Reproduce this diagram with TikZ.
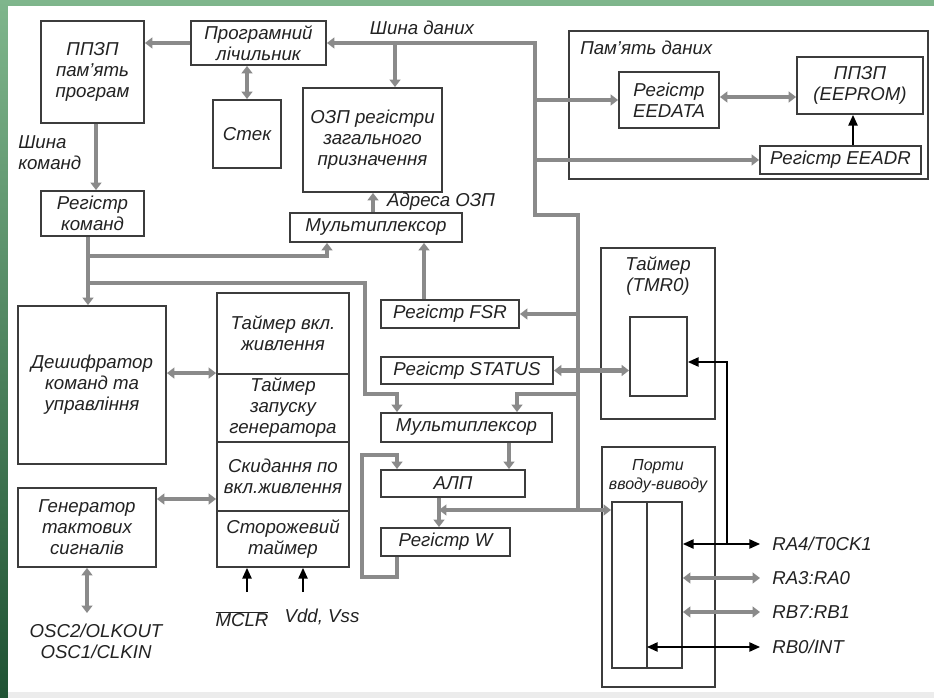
\documentclass[tikz,border=0pt]{standalone}
\usepackage{fontspec}
\setmainfont{Liberation Sans}
\usetikzlibrary{arrows.meta}
\definecolor{busgray}{HTML}{8A8A8A}
\definecolor{boxline}{HTML}{3C3C3C}
\definecolor{ink}{HTML}{222222}
\definecolor{greentop}{HTML}{7FB68C}
\definecolor{greendark}{HTML}{1F5233}
\begin{document}
\begin{tikzpicture}[x=0.75pt,y=-0.75pt,
  sz/.style 2 args={minimum width={#1*0.75pt},minimum height={#2*0.75pt}},
  box/.style={draw=boxline, line width=1.4pt, fill=white, inner sep=0pt, align=center, text=ink, font=\fontsize{14}{15.75}\selectfont\itshape},
  lbl/.style={inner sep=0pt, align=center, text=ink, font=\fontsize{14}{15.75}\selectfont\itshape},
  bus/.style={draw=busgray, line width=3.6pt, >={Triangle[width=8pt,length=5.5pt]}},
  sig/.style={draw=black, line width=1.1pt, >={Triangle[width=7pt,length=8pt]}},
]
% page and frame
\useasboundingbox (0,0) rectangle (934,698);
\shade[top color=greentop, bottom color=greendark] (0,0) rectangle (934,698);
\fill[white] (8,6) rectangle (934,692);
\fill[gray!15] (8,692) rectangle (934,698);

% program side
\node[box,sz={103}{102}] (ppzp) at (92.5,72) {ППЗП\\пам’ять\\програм};
\node[box,sz={135}{44}] (pc) at (258.5,43) {Програмний\\лічильник};
\node[box,sz={68}{68}] (stek) at (247,134) {Стек};
\node[box,sz={103}{45}] (rk) at (92.5,213.5) {Регістр\\команд};
\node[box,sz={139}{104}] (ozp) at (372.5,140) {ОЗП регістри\\загального\\призначення};
\node[box,sz={172}{29}] (muxa) at (376,227.5) {Мультиплексор};

% data memory
\node[box,sz={359}{148}] (memd) at (748.5,105) {};
\node[lbl,anchor=west] (memdl) at (580,48) {Пам’ять даних};
\node[box,sz={100}{56}] (eedata) at (669,100) {Регістр\\EEDATA};
\node[box,sz={126}{57}] (eeprom) at (860,85.5) {ППЗП\\(EEPROM)};
\node[box,sz={161}{28}] (eeadr) at (840.5,160) {Регістр EEADR};

% control and timers
\node[box,sz={148}{158}] (dec) at (92,385) {Дешифратор\\команд та\\управління};
\node[box,sz={132}{81}] (tA) at (283,333.5) {Таймер вкл.\\живлення};
\node[box,sz={132}{68}] (tB) at (283,408) {Таймер\\запуску\\генератора};
\node[box,sz={132}{69}] (tC) at (283,476.5) {Скидання по\\вкл.живлення};
\node[box,sz={132}{56}] (tD) at (283,539) {Сторожевий\\таймер};
\node[box,sz={138}{79}] (gen) at (87,527.5) {Генератор\\тактових\\сигналів};

% registers and ALU
\node[box,sz={138}{28}] (fsr) at (450,314) {Регістр FSR};
\node[box,sz={172}{27}] (status) at (467,370.5) {Регістр STATUS};
\node[box,sz={171}{29}] (muxb) at (466.5,427.5) {Мультиплексор};
\node[box,sz={144}{27}] (alu) at (453,483.5) {АЛП};
\node[box,sz={129}{28}] (wreg) at (445.5,542) {Регістр W};

% timer and ports
\node[box,sz={114}{171}] (tmr) at (658,333.5) {};
\node[lbl] (tmrl) at (658,276) {Таймер\\(TMR0)};
\node[box,sz={57}{79}] (tmri) at (658.5,356.5) {};
\node[box,sz={113}{240}] (ports) at (658.5,567) {};
\node[lbl,font=\fontsize{12}{14.25}\selectfont\itshape] (portsl) at (658,476.5) {Порти\\вводу-виводу};
\node[box,sz={70}{166}] (portsi) at (647,585) {};
\draw[boxline,line width=1.4pt] (portsi.north) -- (portsi.south);

% free labels
\node[lbl] (dbus) at (422,28) {Шина даних};
\node[lbl] (addr) at (441,202) {Адреса ОЗП};
\node[lbl,anchor=west,align=left] (cbus) at (18,152.5) {Шина\\команд};
\node[lbl] (osc) at (96,641) {OSC2/OLKOUT\\OSC1/CLKIN};
\node[lbl] (mclr) at (242,619) {$\overline{\mbox{MCLR}}$};
\node[lbl] (vdd) at (322,617) {Vdd, Vss};
\node[lbl,anchor=west] (ra4) at (772,544) {RA4/T0CK1};
\node[lbl,anchor=west] (ra3) at (772,578) {RA3:RA0};
\node[lbl,anchor=west] (rb7) at (772,612) {RB7:RB1};
\node[lbl,anchor=west] (rb0) at (772,647) {RB0/INT};

% bus corners and tap positions
\coordinate (busA) at (535,43);
\coordinate (busB) at (535,215);
\coordinate (busC) at (578,215);
\coordinate (busD) at (578,510);
\coordinate (xozp) at (395,0);
\coordinate (xee) at (853,0);
\coordinate (xrk) at (88,0);
\coordinate (xpm) at (96,0);
\coordinate (brA) at (88,256);
\coordinate (brAe) at (327,256);
\coordinate (brB) at (88,283);
\coordinate (brBc) at (365,394);
\coordinate (xmb) at (397,0);
\coordinate (xma) at (373,0);
\coordinate (xfsr) at (424,0);
\coordinate (mbr) at (517,394);
\coordinate (xalu) at (509,0);
\coordinate (xw) at (439,0);
\coordinate (fbA) at (362,577);
\coordinate (fbB) at (362,455);
\coordinate (ygen) at (0,499);
\coordinate (osce) at (87,613);
\coordinate (mclrs) at (247,592);
\coordinate (vdds) at (303,592);
\coordinate (pine) at (760,0);
\coordinate (tmrin) at (727,362);
\coordinate (yee) at (0,97);

% data bus
\draw[bus,<-] (pc.east) -- (busA) -- (busB) -- (busC) -- (busD);
\draw[bus,->] (xozp |- busA) -- (xozp |- ozp.north);
\draw[bus,->] (busB |- eedata.west) -- (eedata.west);
\draw[bus,->] (busB |- eeadr.west) -- (eeadr.west);
\draw[bus,->] (busC |- fsr.east) -- (fsr.east);
\draw[bus,->] (busC |- mbr) -- (mbr) -- (mbr |- muxb.north);
\draw[bus,<->] (xw |- busD) -- (portsi.west |- busD);

% program memory and instruction path
\draw[bus,->] (pc.west) -- (pc.west -| ppzp.east);
\draw[bus,<->] (stek.north) -- (stek.north |- pc.south);
\draw[bus,->] (xpm |- ppzp.south) -- (xpm |- rk.north);
\draw[bus,->] (xrk |- rk.south) -- (xrk |- dec.north);
\draw[bus,->] (brA) -- (brAe) -- (brAe |- muxa.south);
\draw[bus,->] (brB) -| (brBc) -| (xmb |- muxb.north);

% data memory links
\draw[bus,<->] (eedata.east |- yee) -- (eeprom.west |- yee);
\draw[sig,->] (xee |- eeadr.north) -- (xee |- eeprom.south);

% register file addressing and ALU
\draw[bus,->] (xma |- muxa.north) -- (xma |- ozp.south);
\draw[bus,->] (xfsr |- fsr.north) -- (xfsr |- muxa.south);
\draw[bus,<->] (status.east) -- (status.east -| tmri.west);
\draw[bus,->] (xalu |- muxb.south) -- (xalu |- alu.north);
\draw[bus,->] (xw |- alu.south) -- (xw |- wreg.north);
\draw[bus,->] (xmb |- wreg.south) |- (fbA) -- (fbB) -| (xmb |- alu.north);

% control, clock and reset
\draw[bus,<->] (dec.east |- tB.north) -- (tB.north west);
\draw[bus,<->] (gen.east |- ygen) -- (tC.west |- ygen);
\draw[bus,<->] (gen.south) -- (osce);
\draw[sig,->] (mclrs) -- (mclrs |- tD.south);
\draw[sig,->] (vdds) -- (vdds |- tD.south);

% port pins
\draw[sig,<->] (portsi.east |- ra4.west) -- (pine |- ra4.west);
\draw[bus,<->] (portsi.east |- ra3.west) -- (pine |- ra3.west);
\draw[bus,<->] (portsi.east |- rb7.west) -- (pine |- rb7.west);
\draw[sig,<->] (portsi.north |- rb0.west) -- (pine |- rb0.west);
\draw[sig,->] (tmrin |- ra4.west) -- (tmrin) -- (tmrin -| tmri.east);
\end{tikzpicture}
\end{document}
